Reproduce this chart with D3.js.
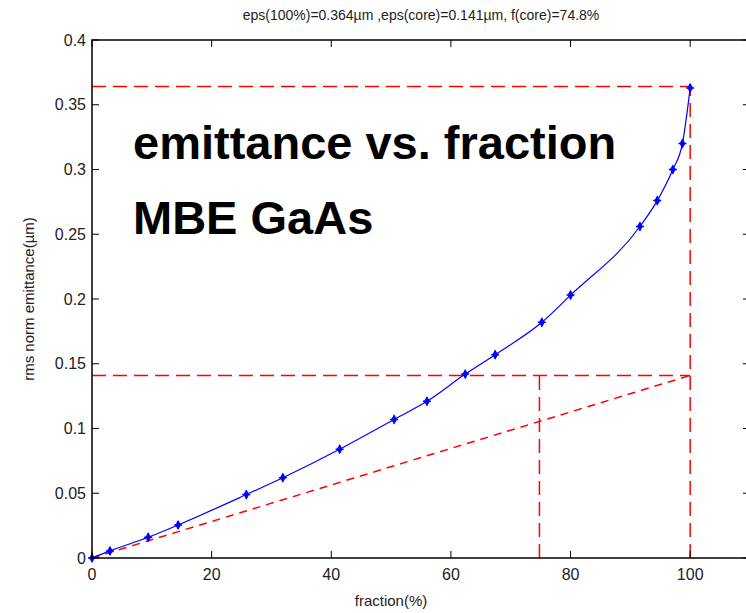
<!DOCTYPE html>
<html>
<head>
<meta charset="utf-8">
<script src="https://cdn.jsdelivr.net/npm/d3@7"></script>
<style>
  body { margin: 0; background: #fff; }
  svg { display: block; font-family: "Liberation Sans", Arial, sans-serif; }
</style>
</head>
<body>
<svg id="chart" width="746" height="613"></svg>
<script>
// measured points (fraction %, rms norm emittance um)
var fraction = [0, 3.0, 9.4, 14.4, 25.8, 31.9, 41.4, 50.5, 56.0, 62.4, 67.4, 75.2, 80.0, 91.6, 94.5, 97.1, 98.7, 100];
var emittance = [0, 0.0055, 0.016, 0.0255, 0.049, 0.062, 0.084, 0.107, 0.121, 0.142, 0.157, 0.182, 0.203, 0.256, 0.276, 0.300, 0.320, 0.363];
var epsAll = 0.364, epsCore = 0.141, fCore = 74.8;
var xTicks = [0, 20, 40, 60, 80, 100];
var yTicks = [0, 0.05, 0.1, 0.15, 0.2, 0.25, 0.3, 0.35, 0.4];

var svg = d3.select("#chart"),
  margin = {top: 40, right: -4, bottom: 55, left: 92},
  width = +svg.attr("width") - margin.left - margin.right,
  height = +svg.attr("height") - margin.top - margin.bottom;

var x = d3.scaleLinear().domain([0, 110]).range([0, width]),
  y = d3.scaleLinear().domain([0, 0.4]).range([height, 0]);

var g = svg.append("g")
  .attr("transform", "translate(" + margin.left + "," + margin.top + ")");

var red = "#ff0000", blue = "#0000ff";

// reference lines
function dashed(x1, y1, x2, y2, dash) {
  g.append("line")
    .attr("x1", x(x1)).attr("y1", y(y1))
    .attr("x2", x(x2)).attr("y2", y(y2))
    .attr("stroke", red)
    .attr("stroke-width", 1.5)
    .attr("stroke-dasharray", dash);
}
dashed(0, epsAll, 100, epsAll, "14,7");
dashed(100, 0, 100, epsAll, "14,7");
dashed(0, epsCore, 100, epsCore, "14,7");
dashed(fCore, 0, fCore, epsCore, "14,7");
dashed(0, 0, 100, epsCore, "8,6");

// fit curve
var data = fraction.map(function(f, i) { return {f: f, e: emittance[i]}; });
var line = d3.line()
  .curve(d3.curveMonotoneX)
  .x(function(d) { return x(d.f); })
  .y(function(d) { return y(d.e); });

g.append("path")
  .datum(data)
  .attr("fill", "none")
  .attr("stroke", blue)
  .attr("stroke-width", 1.2)
  .attr("d", line);

// markers
var marks = g.selectAll(".mark").data(data).enter().append("g")
  .attr("transform", function(d) { return "translate(" + x(d.f) + "," + y(d.e) + ")"; });
marks.append("path")
  .attr("d", d3.symbol().type(d3.symbolDiamond).size(30))
  .attr("fill", blue);
marks.append("path")
  .attr("d", "M-4,0H4M0,-4V4")
  .attr("stroke", blue)
  .attr("stroke-width", 1.5);

// axes box
g.append("rect")
  .attr("width", width).attr("height", height)
  .attr("fill", "none").attr("stroke", "#000").attr("stroke-width", 1.5);

var tl = 7;
xTicks.forEach(function(t) {
  g.append("line").attr("x1", x(t)).attr("x2", x(t)).attr("y1", height).attr("y2", height - tl).attr("stroke", "#000");
  g.append("line").attr("x1", x(t)).attr("x2", x(t)).attr("y1", 0).attr("y2", tl).attr("stroke", "#000");
  g.append("text").attr("x", x(t)).attr("y", height + 22)
    .attr("text-anchor", "middle").attr("font-size", 16).attr("fill", "#222").text(t);
});
yTicks.forEach(function(t) {
  g.append("line").attr("x1", 0).attr("x2", tl).attr("y1", y(t)).attr("y2", y(t)).attr("stroke", "#000");
  g.append("line").attr("x1", width).attr("x2", width - tl).attr("y1", y(t)).attr("y2", y(t)).attr("stroke", "#000");
  g.append("text").attr("x", -6).attr("y", y(t)).attr("dy", "0.35em")
    .attr("text-anchor", "end").attr("font-size", 16).attr("fill", "#222").text(t);
});

// labels
svg.append("text")
  .attr("x", 421).attr("y", 20)
  .attr("text-anchor", "middle").attr("font-size", 14).attr("fill", "#222")
  .text("eps(100%)=" + epsAll + "\u00b5m ,eps(core)=" + epsCore + "\u00b5m, f(core)=" + fCore + "%");

svg.append("text")
  .attr("x", 391).attr("y", 606)
  .attr("text-anchor", "middle").attr("font-size", 15).attr("fill", "#222")
  .text("fraction(%)");

svg.append("text")
  .attr("transform", "translate(34," + (margin.top + height / 2) + ") rotate(-90)")
  .attr("text-anchor", "middle").attr("font-size", 15).attr("fill", "#222")
  .text("rms norm emittance(\u00b5m)");

// annotation
g.append("text")
  .attr("x", 41).attr("y", 119)
  .attr("font-size", 47).attr("font-weight", "bold").attr("fill", "#000")
  .text("emittance vs. fraction");
g.append("text")
  .attr("x", 41).attr("y", 194)
  .attr("font-size", 47).attr("font-weight", "bold").attr("fill", "#000")
  .text("MBE GaAs");
</script>
</body>
</html>
